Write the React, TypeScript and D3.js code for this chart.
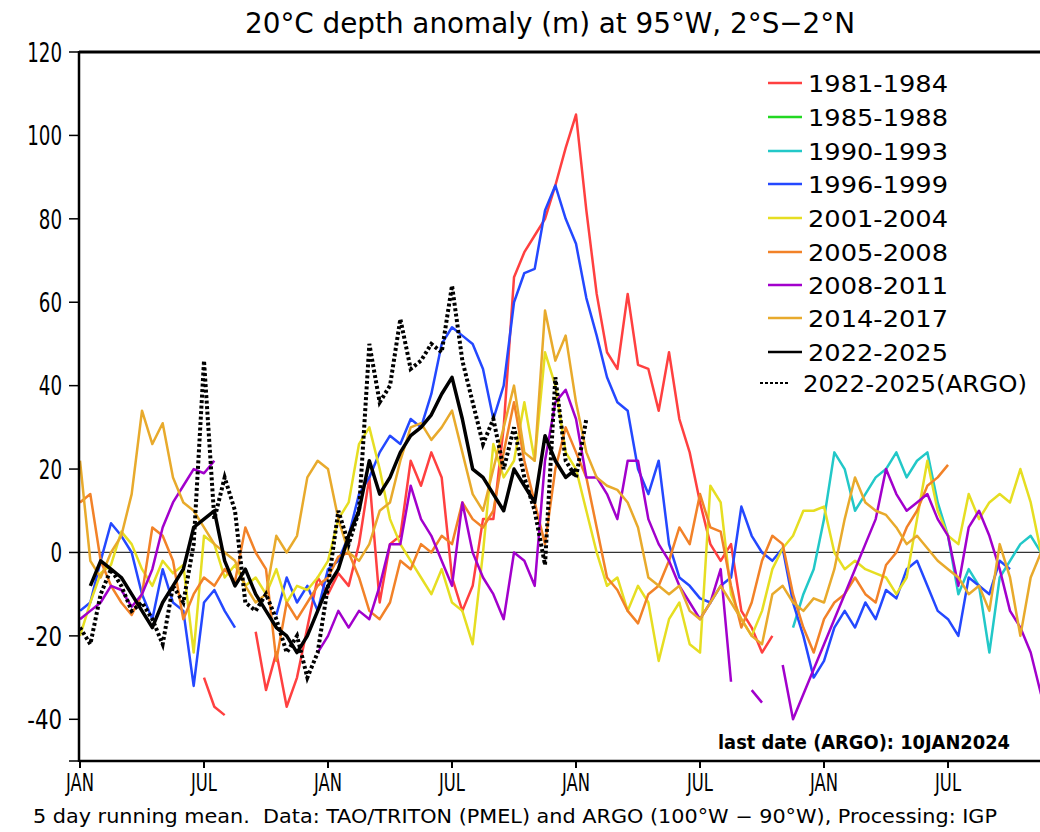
import React, { useEffect, useRef } from 'react';
import * as d3 from 'd3';

// half-month sampling; each series = start month (0 = JAN of year 1) + values
const STEP = 0.5;

const monthLabels = ['JAN', 'JUL', 'JAN', 'JUL', 'JAN', 'JUL', 'JAN', 'JUL'];
const yTicks = [-40, -20, 0, 20, 40, 60, 80, 100, 120];

const red8184Start = 6;
const red8184 = [-30, -37, -39, null, null, -19, -33, -24, -37, -30, -18, -6, -10, -5, -8, 2, 18, -12, 2, 4,
  22, 16, 24, 18, -6, -14, -8, 8, 8, 30, 66, 72, 76, 80, 88, 97, 105, 82, 62, 48,
  44, 62, 45, 44, 34, 48, 32, 24, 12, 2, -2, 2, -14, -18, -24, -20];

const green8588Start = 0;
const green8588: (number | null)[] = [];

const cyan9093Start = 34.5;
const cyan9093 = [-18, -10, -4, 8, 24, 20, 10, 14, 18, 20, 24, 18, 22, 24, 12, 4, -10, -4, -8, -24,
  -6, -2, 2, 4, 0];

const blue9699Start = 0;
const blue9699 = [-14, -12, -2, 7, 4, 0, -10, -16, -4, -12, -14, -32, -12, -9, -14, -18, null, null, null, -15,
  -6, -12, -8, -14, -4, -2, 4, 14, 18, 24, 28, 26, 32, 30, 38, 50, 54, 52, 50, 44,
  32, 40, 60, 67, 68, 82, 88, 80, 74, 61, 52, 42, 36, 34, 20, 14, 22, 2, -6, -8,
  -11, -12, -8, -6, 11, 4, 0, -2, 1, -12, -20, -30, -26, -18, -14, -18, -12, -16, -9, -11,
  -4, -2, -8, -14, -16, -20, -6, -8, -10, -2, -4];

const yellow0104Start = 0;
const yellow0104 = [-20, -12, -5, -3, 5, 2, -4, -8, -2, -5, -3, -24, 4, 2, -6, -3, -8, -6, -10, -4,
  -12, -8, -9, -6, -2, 8, 12, 26, 30, 20, 8, 2, -2, -6, -10, -4, -12, -14, -22, 0,
  26, 18, 22, 36, 22, 48, 40, 24, 20, 10, 0, -8, -6, -14, -8, -12, -26, -16, -12, -22,
  -24, 16, 12, -10, -16, -20, -14, -4, 1, 4, 10, 10, 11, 0, -4, -2, -4, -5, -6, -10,
  -6, 8, 22, 10, 4, 2, 14, 8, 12, 14, 12, 20, 12, 0];

const orange0508Start = 0;
const orange0508 = [12, 14, -2, -8, -12, -15, -10, 6, 4, -2, -16, -10, -6, -8, -4, -7, 6, 0, -4, -26,
  -12, -16, -12, -8, -6, -1, 0, -6, -14, -16, -12, -2, -4, 2, 0, 4, 2, 12, 8, 6,
  10, 24, 36, 22, 12, 2, 20, 30, 24, 18, 6, -6, -9, -14, -17, -10, -8, -2, 6, 2,
  14, 6, 5, -8, -18, -12, -2, 4, 2, -10, -18, -24, -16, -12, -10, -6, -10, -12, -3, 0,
  6, 10, 16, 18, 21];

const purple0811Start = 0;
const purple0811 = [-16, -14, -12, -8, -9, -13, -10, -4, 6, 12, 16, 20, 19, 22, null, null, null, null, null, null,
  null, null, null, -24, -20, -14, -18, -14, -16, -8, 2, 2, 16, 8, 4, -2, -8, 12, 0, -6,
  -10, -16, 0, -2, -8, 22, 36, 39, 32, 18, 18, 14, 8, 22, 22, 8, 2, -2, -8, -12,
  -16, -12, -4, -31, null, -33, -36, null, -27, -40, -34, -28, -22, -16, -10, -4, 2, 8, 20, 14,
  10, 12, 14, 8, 4, -8, 6, 10, 4, -4, -14, -18, -24, -34];

const gold1417Start = 0;
const gold1417 = [22, -2, -6, 0, 4, 14, 34, 26, 31, 18, 12, 10, 6, 2, 0, -2, -8, -12, -10, 4,
  0, 4, 18, 22, 20, 8, 0, -2, 2, 10, 12, 22, 30, 31, 27, 30, 34, 24, 14, 10,
  20, 30, 40, 24, 22, 58, 46, 52, 36, 24, 18, 16, 15, 12, 6, -6, -8, -10, -8, -14,
  -16, -12, -8, -12, -16, -20, -22, -10, -8, -12, -14, -11, -12, -4, 8, 18, 12, 10, 9, 6,
  2, 4, 1, -2, -4, -6, -10, -8, -14, 2, -6, -20, -6, 0];

const black2225Start = 0.5;
const black2225 = [-8, -2, -4, -6, -10, -14, -18, -12, -8, -4, 6, 8, 10, -2, -8, -4, -10, -14, -18, -20,
  -24, -20, -14, -8, -4, 4, 10, 22, 14, 18, 24, 28, 30, 33, 38, 42, 32, 20, 18, 14,
  10, 20, 16, 12, 28, 22, 18, 20];

const argo2225Start = 0;
const argo2225 = [-18, -22, -10, -4, -8, -14, -12, -16, -22, -8, -12, 2, 46, 8, 18, 10, -12, -14, -10, -16,
  -24, -20, -30, -24, -8, 10, 2, 10, 50, 36, 40, 56, 44, 46, 50, 48, 64, 46, 36, 26,
  32, 20, 30, 18, 10, -3, 42, 22, 18, 32];

const series = [
  { name: '1981-1984', color: '#ff4040', start: red8184Start, values: red8184, width: 2.5 },
  { name: '1985-1988', color: '#22d822', start: green8588Start, values: green8588, width: 2.5 },
  { name: '1990-1993', color: '#22c8c8', start: cyan9093Start, values: cyan9093, width: 2.5 },
  { name: '1996-1999', color: '#2448ff', start: blue9699Start, values: blue9699, width: 2.5 },
  { name: '2001-2004', color: '#e6de22', start: yellow0104Start, values: yellow0104, width: 2.5 },
  { name: '2005-2008', color: '#f28228', start: orange0508Start, values: orange0508, width: 2.5 },
  { name: '2008-2011', color: '#a200cc', start: purple0811Start, values: purple0811, width: 2.5 },
  { name: '2014-2017', color: '#e8aa2c', start: gold1417Start, values: gold1417, width: 2.5 },
  { name: '2022-2025', color: '#000000', start: black2225Start, values: black2225, width: 3.5 },
];
const argo = { name: '2022-2025(ARGO)', color: '#000000', start: argo2225Start, values: argo2225 };

const FONT = '"Liberation Sans Narrow", "DejaVu Sans Condensed", "DejaVu Sans", sans-serif';
const LEGEND_FONT = '"DejaVu Sans", "Liberation Sans", sans-serif';

const App = () => {
  const svgRef = useRef<SVGSVGElement>(null);

  useEffect(() => {
    const svg = d3.select(svgRef.current);
    svg.selectAll('*').remove();

    const left = 79, right = 1040, top = 52, bottom = 761;

    const x = d3.scaleLinear().domain([0, 46.45]).range([80, 1040]);
    const y = d3.scaleLinear().domain([-50, 120]).range([bottom, top]);

    svg.append('defs').append('clipPath').attr('id', 'plot')
      .append('rect').attr('x', left + 1).attr('y', top).attr('width', right - left).attr('height', bottom - top);

    // title
    svg.append('text')
      .attr('x', 550).attr('y', 33)
      .attr('text-anchor', 'middle')
      .attr('font-family', FONT).attr('font-size', 29)
      .attr('textLength', 610).attr('lengthAdjust', 'spacingAndGlyphs')
      .text('20°C depth anomaly (m) at 95°W, 2°S−2°N');

    // zero line
    svg.append('line')
      .attr('x1', left).attr('x2', right).attr('y1', y(0)).attr('y2', y(0))
      .attr('stroke', '#333').attr('stroke-width', 1.3);

    const plot = svg.append('g').attr('clip-path', 'url(#plot)');

    const lineFor = (start: number) => d3.line<number | null>()
      .defined(d => d != null)
      .x((_, i) => x(start + i * STEP))
      .y(d => y(d as number));

    series.forEach(s => {
      if (s.values.length === 0) return;
      plot.append('path')
        .datum(s.values)
        .attr('fill', 'none')
        .attr('stroke', s.color)
        .attr('stroke-width', s.width)
        .attr('stroke-linejoin', 'round')
        .attr('d', lineFor(s.start));
    });

    plot.append('path')
      .datum(argo.values)
      .attr('fill', 'none')
      .attr('stroke', argo.color)
      .attr('stroke-width', 4)
      .attr('stroke-dasharray', '3 2.5')
      .attr('d', lineFor(argo.start));

    // frame
    const frame = svg.append('g').attr('stroke', '#000').attr('stroke-width', 2.5);
    frame.append('line').attr('x1', left).attr('x2', left).attr('y1', top - 1).attr('y2', bottom + 1);
    frame.append('line').attr('x1', left).attr('x2', right).attr('y1', top).attr('y2', top).attr('stroke-width', 3);
    frame.append('line').attr('x1', left).attr('x2', right).attr('y1', bottom).attr('y2', bottom);

    // y axis
    const yAxis = svg.append('g');
    yTicks.forEach(v => {
      yAxis.append('line')
        .attr('x1', left - 10).attr('x2', left).attr('y1', y(v)).attr('y2', y(v))
        .attr('stroke', '#000').attr('stroke-width', 1.5);
      const label = String(v);
      yAxis.append('text')
        .attr('x', 62).attr('y', y(v)).attr('dy', '0.36em')
        .attr('text-anchor', 'end')
        .attr('font-family', FONT).attr('font-size', 27)
        .attr('textLength', label.length * 11.6).attr('lengthAdjust', 'spacingAndGlyphs')
        .text(label);
    });
    svg.append('line')
      .attr('x1', left - 10).attr('x2', left).attr('y1', bottom).attr('y2', bottom)
      .attr('stroke', '#000').attr('stroke-width', 1.5);

    // x axis
    const xAxis = svg.append('g');
    monthLabels.forEach((m, i) => {
      const xp = x(i * 6);
      xAxis.append('line')
        .attr('x1', xp).attr('x2', xp).attr('y1', bottom).attr('y2', bottom + 7)
        .attr('stroke', '#000').attr('stroke-width', 2);
      xAxis.append('text')
        .attr('x', xp).attr('y', 791)
        .attr('text-anchor', 'middle')
        .attr('font-family', FONT).attr('font-size', 25)
        .attr('textLength', m === 'JAN' ? 28 : 26).attr('lengthAdjust', 'spacingAndGlyphs')
        .text(m);
    });

    // legend
    const legend = svg.append('g');
    const rowY = [83, 117, 151, 184, 218, 252, 285, 318, 352];
    series.forEach((s, i) => {
      legend.append('line')
        .attr('x1', 768).attr('x2', 802).attr('y1', rowY[i]).attr('y2', rowY[i])
        .attr('stroke', s.color).attr('stroke-width', 2.5);
      legend.append('text')
        .attr('x', 808).attr('y', rowY[i] + 8.5)
        .attr('font-family', LEGEND_FONT).attr('font-size', 23)
        .attr('textLength', 140).attr('lengthAdjust', 'spacingAndGlyphs')
        .text(s.name);
    });
    legend.append('line')
      .attr('x1', 760).attr('x2', 788).attr('y1', 383).attr('y2', 383)
      .attr('stroke', '#000').attr('stroke-width', 2).attr('stroke-dasharray', '3 2');
    legend.append('text')
      .attr('x', 803).attr('y', 391.5)
      .attr('font-family', LEGEND_FONT).attr('font-size', 23)
      .attr('textLength', 224).attr('lengthAdjust', 'spacingAndGlyphs')
      .text(argo.name);

    // notes
    svg.append('text')
      .attr('x', 718).attr('y', 749)
      .attr('font-family', FONT).attr('font-size', 19).attr('font-weight', 'bold')
      .attr('textLength', 292).attr('lengthAdjust', 'spacingAndGlyphs')
      .text('last date (ARGO): 10JAN2024');

    svg.append('text')
      .attr('x', 33).attr('y', 823)
      .attr('font-family', FONT).attr('font-size', 19)
      .style('white-space', 'pre')
      .attr('textLength', 964).attr('lengthAdjust', 'spacingAndGlyphs')
      .text('5 day running mean.  Data: TAO/TRITON (PMEL) and ARGO (100°W − 90°W), Processing: IGP');
  }, []);

  return (
    <svg
      ref={svgRef}
      width={1040}
      height={832}
      style={{ position: 'absolute', left: 0, top: 0, background: '#fff' }}
    />
  );
};

export default App;
